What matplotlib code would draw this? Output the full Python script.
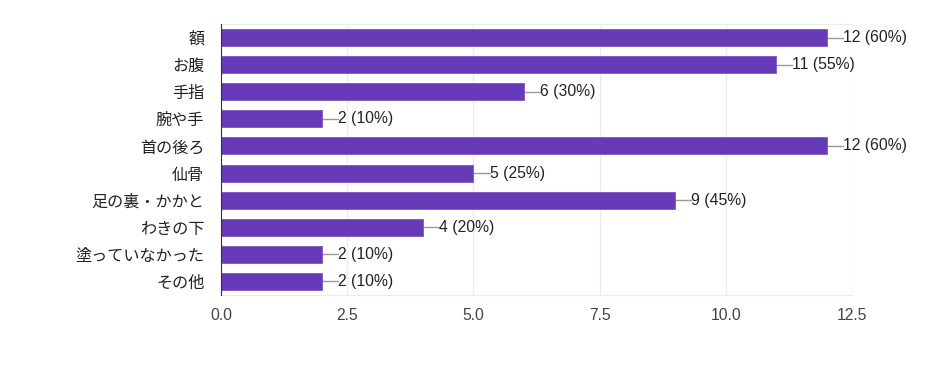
import matplotlib.pyplot as plt

plt.rcParams['font.family'] = ['Noto Sans CJK JP', 'DejaVu Sans']

# Survey answers (count of respondents, n=20)
categories = ["額", "お腹", "手指", "腕や手", "首の後ろ", "仙骨", "足の裏・かかと",
              "わきの下", "塗っていなかった", "その他"]
counts = [12, 11, 6, 2, 12, 5, 9, 4, 2, 2]
percents = [60, 55, 30, 10, 60, 25, 45, 20, 10, 10]
xticks = [0.0, 2.5, 5.0, 7.5, 10.0, 12.5]

fig = plt.figure(figsize=(9.43, 3.65), dpi=100)
ax = fig.add_axes([221 / 943, 1 - 295 / 365, 631 / 943, 271 / 365])

ypos = list(range(len(categories)))
ax.barh(ypos, counts, height=0.63, color="#673ab7", edgecolor="#7e57c2", linewidth=0.6, zorder=3)

for y, c, p in zip(ypos, counts, percents):
    ax.plot([c, c + 0.32], [y, y], color="#999999", lw=1, zorder=2, clip_on=False)
    ax.text(c + 0.32, y, f"{c} ({p}%)", va="center", ha="left", fontsize=11.3,
            color="#222222", family=["Liberation Sans", "DejaVu Sans"])

ax.set_xlim(0, 12.5)
ax.set_ylim(len(categories) - 0.5, -0.5)
ax.set_yticks(ypos)
ax.set_yticklabels(categories, fontsize=11.6, color="#222222")
ax.set_xticks(xticks)
ax.set_xticklabels([f"{t:.1f}" for t in xticks], fontsize=11.3, color="#444444",
                   family=["Liberation Sans", "DejaVu Sans"])
ax.tick_params(axis="y", length=0, pad=12)
ax.tick_params(axis="x", length=0, pad=9)

ax.grid(axis="x", color="#ebebeb", lw=1, zorder=0)
for side in ["top", "bottom"]:
    ax.spines[side].set_color("#ebebeb")
ax.spines["right"].set_visible(False)
ax.spines["left"].set_color("#333333")
ax.spines["left"].set_zorder(4)

fig.savefig("out.png", dpi=100)
